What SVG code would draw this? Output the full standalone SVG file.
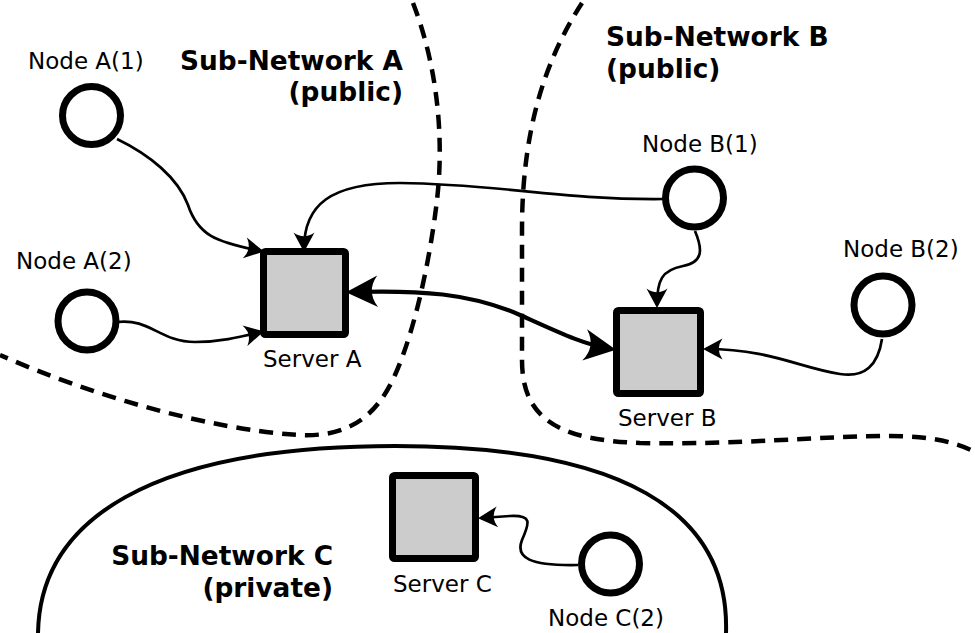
<svg xmlns="http://www.w3.org/2000/svg" width="975" height="633" viewBox="0 0 975 633">
<style>
.lbl{font-family:"DejaVu Sans",sans-serif;font-size:23px;fill:#000}
.ttl{font-family:"DejaVu Sans",sans-serif;font-size:26.4px;font-weight:bold;fill:#000}
.node{fill:#fff;stroke:#000;stroke-width:7}
.srv{fill:#cccccc;stroke:#000;stroke-width:7}
.bnd{fill:none;stroke:#000;stroke-width:4.5;stroke-dasharray:14 9}
.conn{fill:none;stroke:#000;stroke-width:2.7}
.thick{fill:none;stroke:#000;stroke-width:4.2}
</style>
<defs>
<marker id="arr" markerUnits="userSpaceOnUse" markerWidth="30" markerHeight="30" refX="11" refY="0" viewBox="-2 -10 20 20" orient="auto" overflow="visible">
<path d="M 0 -7 L 13 0 L 0 7 Q 5 0 0 -7 Z" fill="#000"/>
</marker>
<marker id="arrL" markerUnits="userSpaceOnUse" markerWidth="40" markerHeight="40" refX="16" refY="0" viewBox="-2 -12 24 24" orient="auto-start-reverse" overflow="visible">
<path d="M 0 -9.5 L 19 0 L 0 9.5 Q 7 0 0 -9.5 Z" fill="#000"/>
</marker>
</defs>

<g id="boundaries">
<path class="bnd" d="M 413 3 C 435 60, 445 130, 437 200 C 430 260, 415 330, 395 375 C 375 420, 345 437, 300 435 C 210 430, 90 395, 0 355"/>
<path class="bnd" d="M 582 3 C 545 60, 522 130, 522 230 L 522 360 C 522 420, 560 440, 640 443 C 740 445, 820 436, 890 436 C 930 436, 955 442, 975 452"/>
<path fill="none" stroke="#000" stroke-width="4" d="M 38 633 C 40 520, 150 446, 395 446 C 620 446, 730 510, 726 633"/>
</g>

<g id="titles">
<text class="ttl" x="403" y="70" text-anchor="end">Sub-Network A</text>
<text class="ttl" x="403" y="101" text-anchor="end">(public)</text>
<text class="ttl" x="606" y="46">Sub-Network B</text>
<text class="ttl" x="606" y="78">(public)</text>
<text class="ttl" x="333" y="565" text-anchor="end">Sub-Network C</text>
<text class="ttl" x="333" y="597" text-anchor="end">(private)</text>
</g>

<g id="connectors">
<path class="conn" marker-end="url(#arr)" d="M 117 139 C 150 155, 178 178, 188 205 C 198 235, 215 242, 261 251"/>
<path class="conn" marker-end="url(#arr)" d="M 663 199 C 560 200, 500 184, 400 183 C 330 183, 304 205, 304 249"/>
<path class="conn" marker-end="url(#arr)" d="M 117 322 C 150 318, 160 342, 195 342 C 220 342, 240 337, 261 332"/>
<path class="thick" marker-start="url(#arrL)" marker-end="url(#arrL)" d="M 351 292 C 420 290, 470 293, 520 315 C 560 333, 585 345, 611 349"/>
<path class="conn" marker-end="url(#arr)" d="M 695 231 C 703 250, 703 262, 683 266 C 662 270, 657 280, 657 305"/>
<path class="conn" marker-end="url(#arr)" d="M 882 339 C 878 365, 865 378, 840 374 C 800 368, 770 349, 706 349"/>
<path class="conn" marker-end="url(#arr)" d="M 578 565 C 530 566, 515 558, 522 540 C 530 522, 532 515, 510 516 L 481 518"/>
</g>

<g id="node-a1"><circle class="node" cx="91.5" cy="115.5" r="29"/><text class="lbl" x="28" y="69">Node A(1)</text></g>
<g id="node-a2"><circle class="node" cx="87" cy="321" r="29"/><text class="lbl" x="16" y="269">Node A(2)</text></g>
<g id="node-b1"><circle class="node" cx="694.5" cy="198" r="29"/><text class="lbl" x="642" y="152">Node B(1)</text></g>
<g id="node-b2"><circle class="node" cx="883" cy="305" r="29"/><text class="lbl" x="843" y="257">Node B(2)</text></g>
<g id="node-c2"><circle class="node" cx="610.5" cy="564" r="29"/><text class="lbl" x="548" y="626">Node C(2)</text></g>

<g id="server-a"><rect class="srv" x="263.5" y="251.5" width="82" height="83" rx="2"/><text class="lbl" x="263" y="367">Server A</text></g>
<g id="server-b"><rect class="srv" x="616.5" y="310.5" width="84" height="83" rx="2"/><text class="lbl" x="618" y="426">Server B</text></g>
<g id="server-c"><rect class="srv" x="392.5" y="475.5" width="83" height="83" rx="2"/><text class="lbl" x="393" y="592">Server C</text></g>
</svg>
